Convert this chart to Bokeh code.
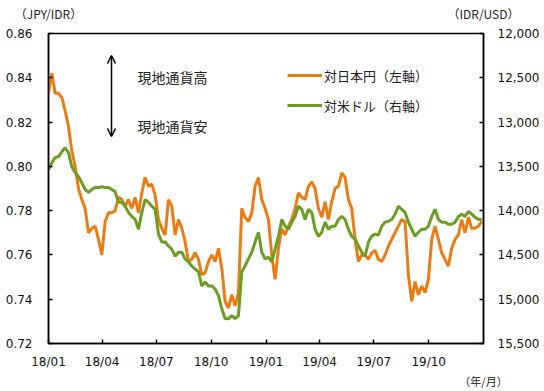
import pandas as pd
from datetime import datetime
from bokeh.plotting import figure
from bokeh.models import (Range1d, LinearAxis, FixedTicker, NumeralTickFormatter,
                          DatetimeTickFormatter, Label, Arrow, OpenHead, Legend, LegendItem)
from bokeh.embed import file_html
from bokeh.resources import INLINE

# ---------------- data ----------------
start_date = "2018-01-01"
end_date = "2019-12-29"

jpy_idr = [
    0.833, 0.842, 0.833, 0.833, 0.831, 0.825, 0.818, 0.807, 0.800, 0.790,
    0.785, 0.781, 0.770, 0.772, 0.773, 0.767, 0.760, 0.775, 0.779, 0.779,
    0.780, 0.786, 0.785, 0.782, 0.785, 0.781, 0.786, 0.779, 0.788, 0.795,
    0.791, 0.792, 0.787, 0.776, 0.772, 0.769, 0.785, 0.782, 0.769, 0.776,
    0.772, 0.766, 0.757, 0.758, 0.761, 0.758, 0.751, 0.752, 0.757, 0.760,
    0.757, 0.763, 0.754, 0.739, 0.736, 0.742, 0.737, 0.743, 0.781, 0.777,
    0.775, 0.779, 0.791, 0.795, 0.785, 0.781, 0.776, 0.760, 0.749, 0.763,
    0.772, 0.769, 0.773, 0.776, 0.781, 0.788, 0.786, 0.785, 0.791, 0.793,
    0.790, 0.781, 0.777, 0.784, 0.776, 0.784, 0.790, 0.791, 0.797, 0.795,
    0.785, 0.781, 0.767, 0.757, 0.760, 0.760, 0.758, 0.761, 0.762, 0.758,
    0.757, 0.760, 0.764, 0.767, 0.770, 0.773, 0.776, 0.775, 0.751, 0.739,
    0.748, 0.742, 0.746, 0.743, 0.749, 0.767, 0.773, 0.767, 0.761, 0.758,
    0.755, 0.763, 0.767, 0.769, 0.776, 0.770, 0.777, 0.772, 0.772, 0.773,
    0.775,
]

idr_usd = [
    13540, 13460, 13400, 13390, 13335, 13290, 13345, 13505, 13570, 13615,
    13685, 13760, 13795, 13760, 13740, 13740, 13730, 13740, 13740, 13760,
    13785, 13905, 13905, 13950, 14020, 14065, 14100, 14210, 14020, 13875,
    13905, 13950, 13985, 14265, 14355, 14355, 14400, 14435, 14515, 14470,
    14470, 14545, 14580, 14625, 14660, 14690, 14850, 14805, 14850, 14850,
    14885, 14960, 15105, 15220, 15220, 15185, 15220, 15185, 14690, 14625,
    14545, 14470, 14355, 14245, 14470, 14545, 14525, 14580, 14435, 14290,
    14100, 14175, 14210, 14130, 14065, 13950, 13985, 14100, 13985, 14020,
    14210, 14290, 14245, 14130, 14210, 14175, 14175, 14100, 14065, 14100,
    14210, 14290, 14320, 14400, 14470, 14515, 14355, 14290, 14265, 14275,
    14175, 14130, 14120, 14100, 14040, 13950, 13985, 14020, 14130, 14210,
    14290, 14245, 14210, 14210, 14175, 14065, 13985, 14100, 14130, 14130,
    14155, 14155, 14130, 14065, 14040, 14065, 14010, 14040, 14075, 14100,
    14100,
]

x_tick_dates = ["2018-01-01", "2018-04-01", "2018-07-01", "2018-10-01",
                "2019-01-01", "2019-04-01", "2019-07-01", "2019-10-01"]
left_ticks = [0.72, 0.74, 0.76, 0.78, 0.80, 0.82, 0.84, 0.86]
right_ticks = [12000, 12500, 13000, 13500, 14000, 14500, 15000, 15500]

series_names = ["対日本円（左軸）", "対米ドル（右軸）"]
unit_left = "（JPY/IDR）"
unit_right = "（IDR/USD）"
unit_x = "（年/月）"
note_up = "現地通貨高"
note_down = "現地通貨安"

dates = pd.date_range(start_date, end_date, periods=len(jpy_idr))

# ---------------- styles ----------------
ORANGE = "#E97C14"
GREEN = "#6A9E22"
NUM_FONT = "DejaVu Sans"
JP_FONT = "Noto Sans CJK JP"

p = figure(width=544, height=391, x_axis_type="datetime",
           x_range=Range1d(datetime(2018, 1, 1), datetime(2020, 1, 1)),
           y_range=Range1d(0.72, 0.86),
           output_backend="svg", toolbar_location=None, tools="",
           min_border_left=48, min_border_right=61,
           min_border_top=33, min_border_bottom=46)
p.extra_y_ranges = {"usd": Range1d(15500, 12000)}
p.extra_x_ranges = {"lab": Range1d(0, 1)}

p.xgrid.visible = False
p.ygrid.visible = False
p.outline_line_color = "black"
p.outline_line_width = 1.5
p.background_fill_color = "white"
p.border_fill_color = "white"

# bottom axis
xa = p.xaxis[0]
xa.ticker = FixedTicker(ticks=[pd.Timestamp(d).timestamp() * 1000 for d in x_tick_dates])
xa.formatter = DatetimeTickFormatter(days="%y/%m", months="%y/%m", years="%y/%m",
                                     hours="%y/%m", minutes="%y/%m")
# left axis
ya = p.yaxis[0]
ya.ticker = FixedTicker(ticks=left_ticks)
ya.formatter = NumeralTickFormatter(format="0.00")
# right axis
ra = LinearAxis(y_range_name="usd", ticker=FixedTicker(ticks=right_ticks),
                formatter=NumeralTickFormatter(format="0,0"))
p.add_layout(ra, "right")

for ax, standoff in ((xa, 11), (ya, 16), (ra, 14)):
    ax.axis_line_color = "black"
    ax.axis_line_width = 1.5
    ax.major_tick_line_color = "black"
    ax.major_tick_line_width = 1.5
    ax.major_tick_in = 4
    ax.major_tick_out = 0
    ax.minor_tick_line_color = None
    ax.major_label_text_font = NUM_FONT
    ax.major_label_text_font_size = "12px"
    ax.major_label_text_color = "#111111"
    ax.major_label_standoff = standoff

# unit captions as label-only axes (top: both y units, bottom: x unit)
top_units = LinearAxis(x_range_name="lab", ticker=FixedTicker(ticks=[0, 1]),
                       major_label_overrides={0: unit_left, 1: unit_right})
bot_units = LinearAxis(x_range_name="lab", ticker=FixedTicker(ticks=[1]),
                       major_label_overrides={1: unit_x})
for ax, standoff, size in ((top_units, 12, "12px"), (bot_units, 1, "11px")):
    ax.axis_line_color = None
    ax.major_tick_line_color = None
    ax.minor_tick_line_color = None
    ax.major_tick_in = 0
    ax.major_tick_out = 0
    ax.major_label_text_font = JP_FONT
    ax.major_label_text_font_size = size
    ax.major_label_text_color = "#222222"
    ax.major_label_standoff = standoff
p.add_layout(top_units, "above")
p.add_layout(bot_units, "below")

r1 = p.line(dates, jpy_idr, line_color=ORANGE, line_width=3)
r2 = p.line(dates, idr_usd, y_range_name="usd", line_color=GREEN, line_width=3)

legend = Legend(items=[LegendItem(label=series_names[0], renderers=[r1]),
                       LegendItem(label=series_names[1], renderers=[r2])],
                location=(239, 228), padding=0, margin=0, spacing=10,
                glyph_width=35, glyph_height=20, label_height=20,
                label_standoff=2, label_text_font=JP_FONT,
                label_text_font_size="13px", label_text_color="#222222",
                background_fill_alpha=0, border_line_alpha=0)
p.add_layout(legend)

# annotations (screen units, frame-relative)
p.add_layout(Arrow(x_start=63, y_start=207, x_end=63, y_end=288,
                   start_units="screen", end_units="screen",
                   line_color="black", line_width=1.5,
                   start=OpenHead(size=8, line_color="black", line_width=1.5),
                   end=OpenHead(size=8, line_color="black", line_width=1.5)))

def add_text(txt, x, y, size, align="left"):
    p.add_layout(Label(x=x, y=y, x_units="screen", y_units="screen", text=txt,
                       text_font=JP_FONT, text_font_size=size, text_color="#222222",
                       text_align=align, text_baseline="middle"))

add_text(note_up, 89, 267, "14px")
add_text(note_down, 89, 218, "14px")

open("out.html", "w").write(file_html(p, INLINE))
